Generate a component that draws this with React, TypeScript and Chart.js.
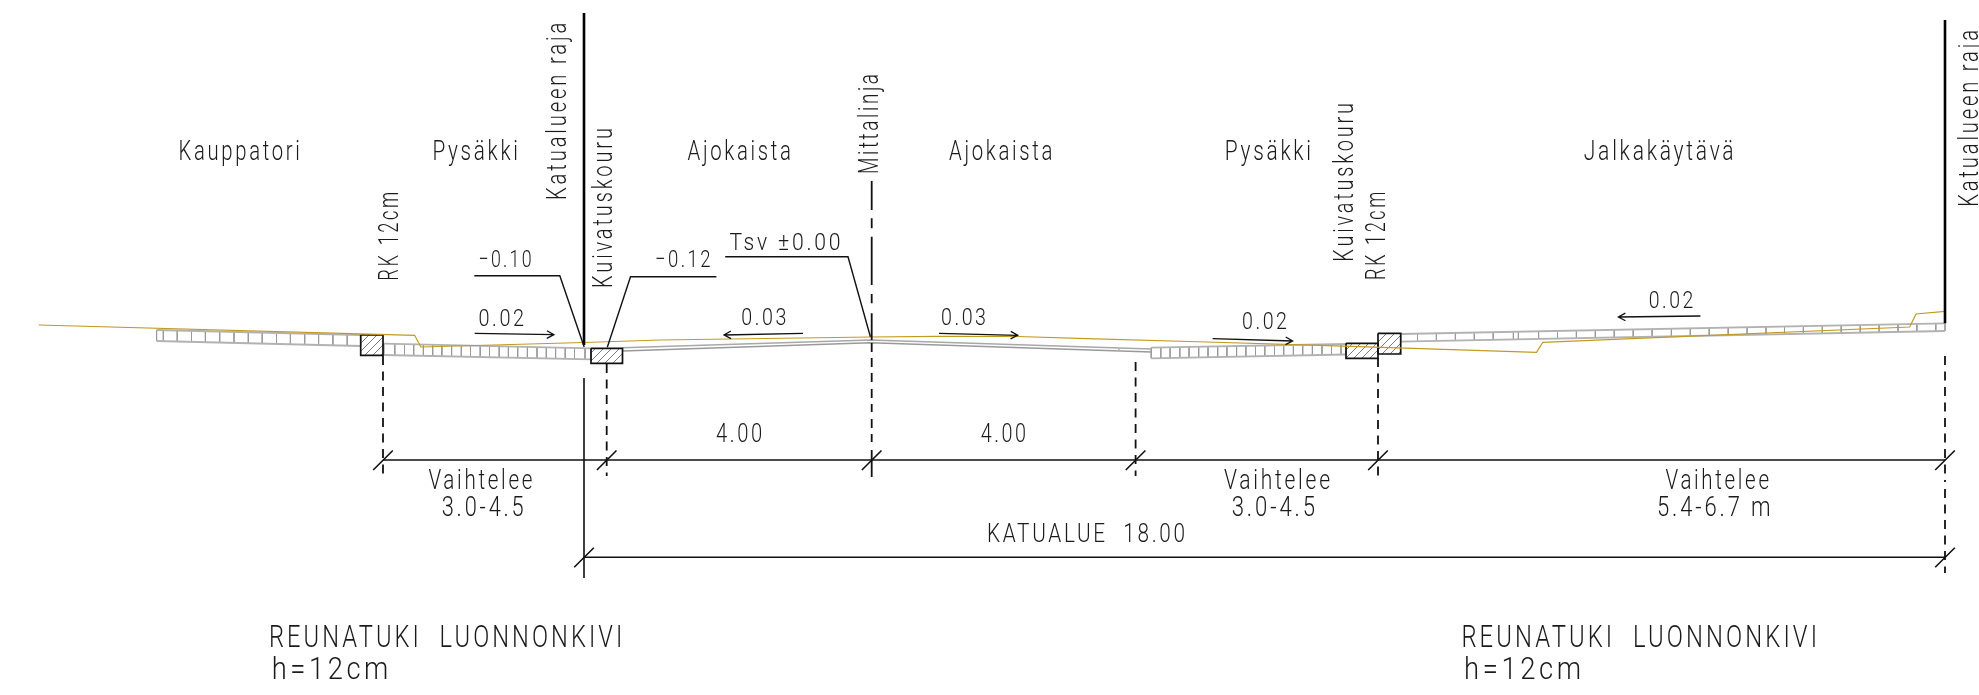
import React, { useEffect, useRef } from "react";
import { Chart, registerables } from "chart.js";

Chart.register(...registerables);

type P = [number, number];
type Strip = { edges: number[]; x0: number; x1: number; top0: number; top1: number; bot0: number; bot1: number };

const WIDTH = 1979;
const HEIGHT = 695;
const TEXT_FONT = "Roboto";

// Existing ground line
const groundLine: P[] = [[38.7, 325], [414.6, 335.3], [420.9, 347], [584, 342.5], [660, 340], [870.4, 337], [937.8, 336.3], [1017.7, 336.5], [1087, 338.7], [1207, 342], [1320, 345.3], [1536.5, 352.3], [1542.8, 342.3], [1909.7, 327], [1916, 314], [1945, 311.3]];

// Paved strips: cell edges and top/bottom levels
const stripEdgesKauppatori = [156.6, 163.3, 177.2, 191.5, 205.4, 219.7, 234, 248.3, 262.2, 276.5, 290.4, 304.7, 318.6, 332.9, 347.2, 360.7];
const stripEdgesPysakkiLeft = [383.8, 394.8, 404.5, 413.7, 423.4, 432.7, 441.9, 451.6, 461.3, 470.5, 480.2, 489.5, 499.2, 508.4, 517.7, 527.4, 537, 546.3, 555.6, 565.2, 574.5, 585, 591.3];
const stripEdgesPysakkiRight = [1151.2, 1160.8, 1170.1, 1179.8, 1189, 1198.7, 1208, 1217.7, 1226.9, 1236.6, 1245.9, 1255.5, 1264.8, 1274.5, 1283.7, 1293.4, 1302.7, 1312.4, 1322, 1331.5, 1341, 1346];
const stripEdgesJalkakaytava = [1400.7, 1417.5, 1436.4, 1455.4, 1474.3, 1493.2, 1513.4, 1518.4, 1538.6, 1557.5, 1576.4, 1595.3, 1614.2, 1633.2, 1652.1, 1671.4, 1690.3, 1709.2, 1728.2, 1747.1, 1766, 1784.5, 1803.4, 1822.3, 1841.2, 1860.2, 1879.1, 1898, 1916.9, 1935.8, 1945];

const strips: Strip[] = [
  { edges: stripEdgesKauppatori, x0: 156.6, x1: 360.7, top0: 330, top1: 335, bot0: 341, bot1: 346 },
  { edges: stripEdgesPysakkiLeft, x0: 383.8, x1: 591.3, top0: 343.7, top1: 348.3, bot0: 355, bot1: 359.3 },
  { edges: stripEdgesPysakkiRight, x0: 1151.2, x1: 1346, top0: 347.7, top1: 344, bot0: 358.3, bot1: 354.5 },
  { edges: stripEdgesJalkakaytava, x0: 1400.7, x1: 1945, top0: 334, top1: 323.3, bot0: 341.7, bot1: 331 },
];

// Carriageway surface
const roadTop: P[] = [[622.5, 347.8], [870.4, 340], [1151.2, 349]];
const roadBottom: P[] = [[622.5, 351], [870.4, 342.7], [1151.2, 352]];
const roadEnd: P[] = [[1118.8, 348.3], [1118.8, 351]];

// Kerbstones and gutters
const kerbLeft: P[] = [[360.7, 335], [383, 335], [383, 355.3], [360.7, 355.3], [360.7, 335]];
const gutterLeft: P[] = [[591, 348.3], [622.5, 348.3], [622.5, 363.3], [591, 363.3], [591, 348.3]];
const gutterRight: P[] = [[1346, 343.3], [1378, 343.3], [1378, 358.3], [1346, 358.3], [1346, 343.3]];
const kerbRight: P[] = [[1378, 333.3], [1400.7, 333.3], [1400.7, 354], [1378, 354], [1378, 333.3]];

// Boundary lines
const boundaryLeft: P[] = [[584, 13], [584, 345]];
const boundaryRight: P[] = [[1945, 20], [1945, 323.3]];
const boundaryLeftLower: P[] = [[584, 378], [584, 578]];

// Centre line and dashed witness lines
const centreLine: P[][] = [[[871.7, 181], [871.7, 210]], [[871.7, 218.3], [871.7, 228.3]], [[871.7, 236.7], [871.7, 285]], [[871.7, 294], [871.7, 303.3]], [[871.7, 313.3], [871.7, 340]], [[871.7, 343], [871.7, 352]], [[871.7, 358], [871.7, 367]], [[871.7, 373], [871.7, 382]], [[871.7, 389], [871.7, 398]], [[871.7, 404], [871.7, 412]], [[871.7, 419], [871.7, 428]], [[871.7, 434], [871.7, 442]], [[871.7, 450], [871.7, 477]]];
const witnessLines: P[][] = [
  [[383, 356], [383, 476]],
  [[606.7, 364], [606.7, 476]],
  [[1135.6, 362], [1135.6, 476]],
  [[1378, 358], [1378, 476]],
  [[1945, 356], [1945, 482]],
  [[1945, 489], [1945, 573]],
];

// Dimension lines
const dimUpper: P[] = [[383, 460], [1945, 460]];
const dimLower: P[] = [[584, 557.3], [1945, 557.3]];
const dimTicksUpper = [383, 606.7, 871.7, 1135.6, 1378, 1945];
const dimTicksLower = [584, 1945];

// Leaders
const leaders: P[][] = [
  [[474.3, 275.7], [559.8, 275.7], [584.2, 347]],
  [[607.3, 347.3], [630.5, 276.7], [716.4, 276.7]],
  [[725.2, 256.7], [848, 256.7], [870.4, 336.7]],
];

// Slope arrows [tail, tip]
const slopeArrows: P[][] = [
  [[474.7, 333.3], [553.9, 334.7]],
  [[803, 333.3], [724, 335]],
  [[939, 333.3], [1017.7, 335.3]],
  [[1212.6, 338.7], [1292.6, 341]],
  [[1700.4, 316], [1618.4, 317]],
];

// Horizontal labels: text, left, right, baseline, cap height
const labelTexts = ["Kauppatori", "Pysäkki", "Ajokaista", "Ajokaista", "Pysäkki", "Jalkakäytävä", "−0.10", "0.02", "−0.12", "Tsv ±0.00", "0.03", "0.03", "0.02", "0.02", "4.00", "4.00", "Vaihtelee", "3.0-4.5", "Vaihtelee", "3.0-4.5", "Vaihtelee", "5.4-6.7 m", "KATUALUE  18.00", "REUNATUKI  LUONNONKIVI", "h=12cm", "REUNATUKI  LUONNONKIVI", "h=12cm"];
const labelLeft = [178.6, 432.4, 687.5, 949, 1224.8, 1583.8, 478.5, 478.5, 655, 729.4, 741.2, 941, 1242, 1648.7, 716, 980.7, 428.4, 441.7, 1224, 1231.7, 1665.5, 1657, 987, 269, 271.7, 1461.4, 1464];
const labelRight = [299.7, 517.9, 790.8, 1052.5, 1311, 1733.6, 531.6, 524, 710.5, 840.5, 786.3, 986, 1287, 1693.3, 762.3, 1026, 532.4, 523.7, 1330, 1315, 1769, 1770.6, 1185, 622.3, 388.3, 1817, 1581];
const labelBase = [160, 160, 160, 160, 160, 160, 266.5, 326, 267.3, 249.5, 325, 325, 329.3, 308.3, 441.7, 441.7, 489.3, 516, 489.3, 516, 489.3, 516, 541.5, 646.7, 679.3, 646.7, 679.3];
const labelCap = [20, 20, 20, 20, 20, 20, 17.5, 17.5, 17.5, 17.5, 17.5, 17.5, 17.5, 17.5, 18.5, 18.5, 19, 19, 19, 19, 19, 19, 18.5, 21.7, 21.7, 21.7, 21.7];

// Vertical labels: text, baseline x, bottom, top
const vLabelTexts = ["Katualueen raja", "Kuivatuskouru", "Mittalinja", "RK 12cm", "Kuivatuskouru", "RK 12cm", "Katualueen raja"];
const vLabelBaseX = [566.3, 612, 878, 397.7, 1353, 1385, 1978];
const vLabelBottom = [200, 288, 174, 280.7, 261.7, 280, 206.7];
const vLabelTop = [22.7, 128, 74, 191.7, 103, 191.7, 30];

const GAP: P = [NaN, NaN];
const joinSegments = (segs: P[][]): P[] => segs.flatMap((s, i) => (i ? [GAP, ...s] : s));
const toXY = (pts: P[]) => pts.map(([x, y]) => ({ x, y }));

const levelAt = (s: Strip, x: number, a: number, b: number) => a + ((x - s.x0) / (s.x1 - s.x0)) * (b - a);
const stripOutline = strips.flatMap((s): P[][] => [
  [[s.x0, s.top0], [s.x1, s.top1]],
  [[s.x0, s.bot0], [s.x1, s.bot1]],
]);
const stripCells = strips.flatMap((s) =>
  s.edges.map((x): P[] => [[x, levelAt(s, x, s.top0, s.top1)], [x, levelAt(s, x, s.bot0, s.bot1)]])
);
const tickSegment = (x: number, y: number): P[] => [[x - 9.8, y + 10], [x + 9.8, y - 9.5]];
const arrowSegments = (a: P[]): P[][] => {
  const [t, h] = a;
  const dx = t[0] - h[0];
  const dy = t[1] - h[1];
  const n = Math.hypot(dx, dy);
  const ux = dx / n;
  const uy = dy / n;
  return [
    a,
    [[h[0] + ux * 7 - uy * 3.8, h[1] + uy * 7 + ux * 3.8], h, [h[0] + ux * 7 + uy * 3.8, h[1] + uy * 7 - ux * 3.8]],
  ];
};

function makeHatch(): CanvasPattern | string {
  const c = document.createElement("canvas");
  c.width = 8;
  c.height = 8;
  const g = c.getContext("2d")!;
  g.strokeStyle = "#7c7c7c";
  g.lineWidth = 1;
  g.beginPath();
  g.moveTo(-1, 9);
  g.lineTo(9, -1);
  g.moveTo(-1, 1);
  g.lineTo(1, -1);
  g.moveTo(7, 9);
  g.lineTo(9, 7);
  g.stroke();
  return document.createElement("canvas").getContext("2d")!.createPattern(c, "repeat") || "#ccc";
}

const line = (pts: P[], color: string, width: number, extra: object = {}) => ({
  data: toXY(pts),
  borderColor: color,
  borderWidth: width,
  showLine: true,
  pointRadius: 0,
  tension: 0,
  spanGaps: false,
  fill: false,
  ...extra,
});

export default function App() {
  const ref = useRef<HTMLCanvasElement>(null);
  useEffect(() => {
    if (!ref.current) return;
    const hatch = makeHatch();
    const rect = (pts: P[]) => line(pts, "#111", 1.7, { fill: "shape", backgroundColor: hatch });
    const painted = [
      line(joinSegments(stripCells), "#9a9a9a", 1),
      line(joinSegments(stripOutline), "#b2b2b2", 1.8),
      line(roadBottom, "#9a9a9a", 1.4),
      line(roadTop, "#a8a8a8", 1.4),
      line(roadEnd, "#b2b2b2", 1),
      rect(kerbLeft),
      rect(gutterLeft),
      rect(gutterRight),
      rect(kerbRight),
      line(groundLine, "#c49a1e", 1.2),
      line(boundaryLeft, "#000", 2.6),
      line(boundaryRight, "#000", 2.6),
      line(boundaryLeftLower, "#111", 1.6),
      line(joinSegments(centreLine), "#111", 1.8),
      line(joinSegments(witnessLines), "#111", 1.8, { borderDash: [9, 6.5] }),
      line(dimUpper, "#111", 1.5),
      line(dimLower, "#111", 1.5),
      line(joinSegments([...dimTicksUpper.map((x) => tickSegment(x, 460)), ...dimTicksLower.map((x) => tickSegment(x, 557.3))]), "#111", 1.6),
      line(joinSegments(leaders), "#111", 1.4),
      line(joinSegments(slopeArrows.flatMap(arrowSegments)), "#111", 1.3),
    ];
    const datasets = painted.map((d, i) => ({ ...d, order: painted.length - i }));

    const textPlugin = {
      id: "drawingText",
      afterDatasetsDraw(chart: any) {
        const { ctx, scales } = chart;
        const X = (v: number) => scales.x.getPixelForValue(v);
        const Y = (v: number) => scales.y.getPixelForValue(v);
        ctx.save();
        ctx.fillStyle = "#1a1a1a";
        ctx.textBaseline = "alphabetic";
        ctx.textAlign = "left";
        labelTexts.forEach((t, i) => {
          const size = labelCap[i] / 0.711;
          ctx.font = `300 ${size}px ${TEXT_FONT}`;
          ctx.letterSpacing = `${size * 0.13}px`;
          const w = ctx.measureText(t).width - size * 0.13;
          ctx.save();
          ctx.translate(X(labelLeft[i]), Y(labelBase[i]));
          ctx.scale((X(labelRight[i]) - X(labelLeft[i])) / w, 1);
          ctx.fillText(t, 0, 0);
          ctx.restore();
        });
        vLabelTexts.forEach((t, i) => {
          const size = 19.5 / 0.711;
          ctx.font = `300 ${size}px ${TEXT_FONT}`;
          ctx.letterSpacing = `${size * 0.14}px`;
          const w = ctx.measureText(t).width - size * 0.14;
          ctx.save();
          ctx.translate(X(vLabelBaseX[i]), Y(vLabelBottom[i]));
          ctx.rotate(-Math.PI / 2);
          ctx.scale((Y(vLabelBottom[i]) - Y(vLabelTop[i])) / w, 1);
          ctx.fillText(t, 0, 0);
          ctx.restore();
        });
        ctx.restore();
      },
    };

    const chart = new Chart(ref.current, {
      type: "scatter",
      data: { datasets: datasets as any },
      options: {
        animation: false,
        responsive: false,
        devicePixelRatio: 1,
        layout: { padding: 0 },
        parsing: { xAxisKey: "x", yAxisKey: "y" },
        plugins: { legend: { display: false }, tooltip: { enabled: false } },
        scales: {
          x: { type: "linear", min: 0, max: WIDTH, display: false },
          y: { type: "linear", min: 0, max: HEIGHT, reverse: true, display: false },
        },
      } as any,
      plugins: [textPlugin],
    });
    return () => chart.destroy();
  }, []);
  return (
    <div style={{ position: "absolute", left: 0, top: 0, width: WIDTH, height: HEIGHT, background: "#fff" }}>
      <canvas ref={ref} width={WIDTH} height={HEIGHT} style={{ display: "block" }} />
    </div>
  );
}
